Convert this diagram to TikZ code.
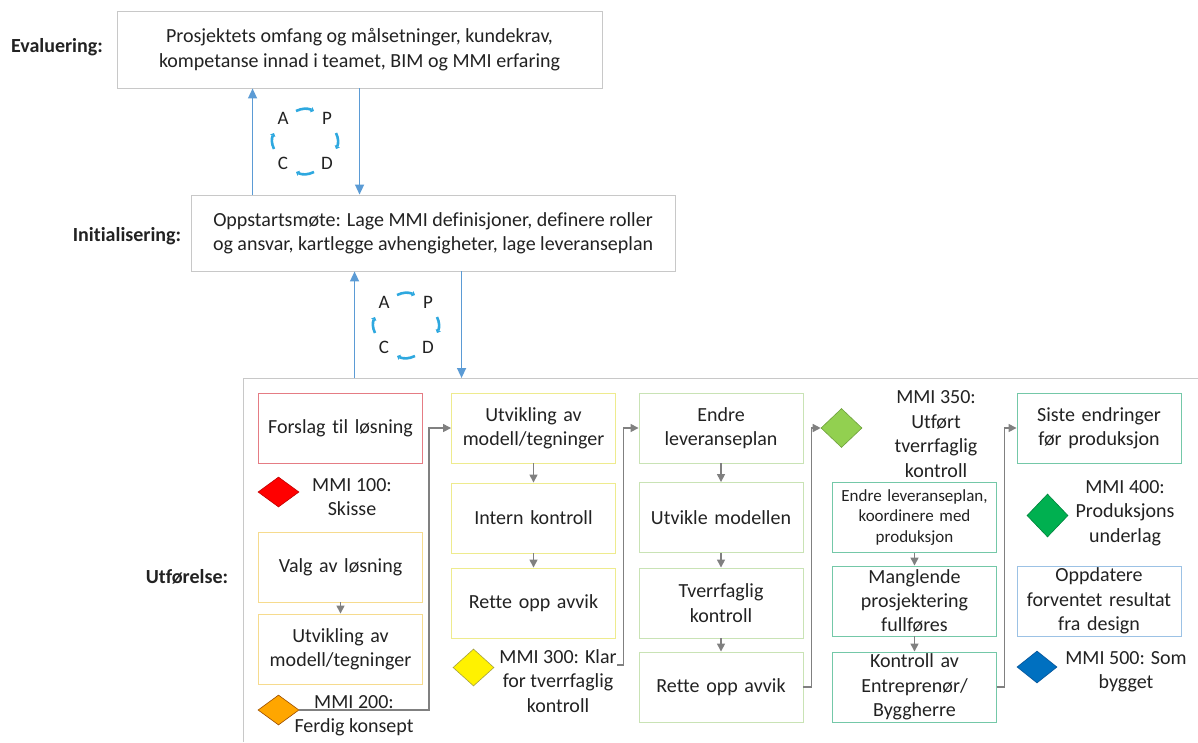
\documentclass[tikz,border=0pt]{standalone}
\usepackage{fontspec}
\setmainfont{Carlito}[Ligatures={NoCommon}]
\usetikzlibrary{arrows.meta,shapes.geometric}

\definecolor{ink}{HTML}{222222}
\definecolor{framegray}{HTML}{C8C8C8}
\definecolor{flowgray}{HTML}{808080}
\definecolor{linkblue}{HTML}{5B9BD5}
\definecolor{cyclecyan}{HTML}{2EA8DF}
\definecolor{edgered}{HTML}{E57C84}
\definecolor{edgegold}{HTML}{F6DB8E}
\definecolor{edgeyellow}{HTML}{EEEB8E}
\definecolor{edgegreen}{HTML}{C9E3B5}
\definecolor{edgeteal}{HTML}{74C8A8}
\definecolor{edgeblue}{HTML}{9CC2E5}

% a PDCA ring: prefix, centre x, centre y
\newcommand\pdcaring[3]{%
  \begin{scope}[shift={(#2,#3)}]
    \node[pdcaletter] (#1A) at (-22,-23) {A};
    \node[pdcaletter] (#1P) at (22,-23) {P};
    \node[pdcaletter] (#1C) at (-22,22) {C};
    \node[pdcaletter] (#1D) at (22,22) {D};
    \draw[cyc] (-9,-30) to[bend left=25] (9,-30);
    \draw[cyc] (31,-8) to[bend left=25] (31,8);
    \draw[cyc] (9,31) to[bend left=25] (-9,31);
    \draw[cyc] (-31,8) to[bend left=25] (-31,-8);
  \end{scope}}

\begin{document}
\begin{tikzpicture}[x=1pt,y=-1pt,
  every node/.style={text=ink},
  txt/.style={align=center, inner sep=0, font=\fontsize{20}{24.4}\selectfont},
  lvl/.style={inner sep=0, font=\fontsize{20}{24.4}\selectfont\bfseries},
  bigbox/.style={txt, draw=framegray, line width=0.9pt, fill=white},
  box/.style={txt, draw, line width=0.9pt, minimum width=164, minimum height=70, text width=160},
  smallbox/.style={box, font=\fontsize{17}{20.5}\selectfont},
  mmi/.style={diamond, inner sep=0, line width=0.6pt},
  pdcaletter/.style={inner sep=0, font=\fontsize{19}{20}\selectfont, text=ink},
  cyc/.style={draw=cyclecyan, line width=2.6pt, -{Triangle[length=3pt,width=5.5pt]}},
  barrow/.style={draw=linkblue, line width=1.4pt, -{Triangle[length=10pt,width=9pt]}},
  garrow/.style={draw=flowgray, line width=1.4pt, -{Triangle[length=8pt,width=8pt]}},
  frame/.style={draw=framegray, line width=0.9pt}
]
\useasboundingbox (0,0) rectangle (1198,742);

% level labels
\node[lvl] (levE) at (57,47) {Evaluering:};
\node[lvl] (levI) at (127,236) {Initialisering:};
\node[lvl] (levU) at (187,577) {Utførelse:};

% evaluation and start-up boxes
\node[bigbox, minimum width=485, minimum height=77] (eval) at (359.5,49.5)
  {Prosjektets omfang og målsetninger, kundekrav,\\kompetanse innad i teamet, BIM og MMI erfaring};
\node[bigbox, minimum width=484, minimum height=76] (init) at (433,233)
  {Oppstartsmøte: Lage MMI definisjoner, definere roller\\og ansvar, kartlegge avhengigheter, lage leveranseplan};

% execution frame
\coordinate (frametop) at (243,378);
\draw[frame] (243,742) -- (frametop) -- (1198,378);

% feedback arrows between levels
\draw[barrow] ([xshift=62]init.north west) -- ([xshift=62]init.north west |- eval.south);
\draw[barrow] ([xshift=243]eval.south west) -- ([xshift=243]eval.south west |- init.north);
\draw[barrow] ([xshift=164]init.south west |- frametop) -- ([xshift=164]init.south west);
\draw[barrow] ([xshift=271]init.south west) -- ([xshift=271]init.south west |- frametop);

\pdcaring{ca}{305}{141}
\pdcaring{cb}{406}{325}

% column 1
\node[box, draw=edgered] (f1) at (340.5,428) {Forslag til løsning};
\node[mmi, fill=red, draw=red!75!black, minimum width=41, minimum height=30] (d100) at (278.5,492) {};
\node[txt] (t100) at (352,497) {MMI 100:\\Skisse};
\node[box, draw=edgegold] (v1) at (340.5,567) {Valg av løsning};
\node[box, draw=edgegold] (v2) at (340.5,649) {Utvikling av\\modell/tegninger};
\node[mmi, fill=orange!70!yellow, draw=orange!60!black, minimum width=41, minimum height=30] (d200) at (278.5,710) {};
\node[txt] (t200) at (354,716) {MMI 200:\\Ferdig konsept};

% column 2
\node[box, draw=edgeyellow] (u1) at (533.5,428) {Utvikling av\\modell/tegninger};
\node[box, draw=edgeyellow] (u2) at (533.5,518) {Intern kontroll};
\node[box, draw=edgeyellow] (u3) at (533.5,603) {Rette opp avvik};
\node[mmi, fill=yellow, draw=yellow!60!black, minimum width=41, minimum height=37] (d300) at (473.5,667.5) {};
\node[txt] (t300) at (558,681) {MMI 300: Klar\\for tverrfaglig\\kontroll};
\coordinate (s300) at (617,665);

% column 3
\node[box, draw=edgegreen] (e1) at (721,428) {Endre\\leveranseplan};
\node[box, draw=edgegreen] (e2) at (721,517.5) {Utvikle modellen};
\node[box, draw=edgegreen] (e3) at (721,603) {Tverrfaglig\\kontroll};
\node[box, draw=edgegreen] (e4) at (721,687) {Rette opp avvik};
\node[mmi, fill={rgb,255:red,146;green,208;blue,80}, draw={rgb,255:red,110;green,160;blue,60}, minimum width=41, minimum height=39] (d350) at (841.5,428) {};
\node[txt] (t350) at (936,434) {MMI 350:\\Utført\\tverrfaglig\\kontroll};

% column 4
\node[smallbox, draw=edgeteal] (k1) at (914.5,517.5) {Endre leveranseplan,\\koordinere med\\produksjon};
\node[box, draw=edgeteal] (k2) at (914.5,601) {Manglende\\prosjektering\\fullføres};
\node[box, draw=edgeteal] (k3) at (914.5,687) {Kontroll av\\Entreprenør/\\Byggherre};

% column 5
\node[box, draw=edgeteal] (s1) at (1099,428) {Siste endringer\\før produksjon};
\node[mmi, fill={rgb,255:red,0;green,176;blue,80}, draw={rgb,255:red,0;green,130;blue,60}, minimum width=41, minimum height=43] (d400) at (1047.5,515.5) {};
\node[txt] (t400) at (1125,513) {MMI 400:\\Produksjons\\underlag};
\node[box, draw=edgeblue] (b2) at (1099,601) {Oppdatere\\forventet resultat\\fra design};
\node[mmi, fill={rgb,255:red,0;green,112;blue,192}, draw={rgb,255:red,0;green,80;blue,150}, minimum width=40, minimum height=32] (d500) at (1037,667) {};
\node[txt] (t500) at (1126,672) {MMI 500: Som\\bygget};

% flow within columns
\draw[garrow] (v1.south) -- (v2.north);
\draw[garrow] (u1.south) -- (u2.north);
\draw[garrow] (u2.south) -- (u3.north);
\draw[garrow] (e1.south) -- (e2.north);
\draw[garrow] (e2.south) -- (e3.north);
\draw[garrow] (e3.south) -- (e4.north);
\draw[garrow] (k1.south) -- (k2.north);
\draw[garrow] (k2.south) -- (k3.north);

% flow between columns
\draw[garrow] (d200.east) -| ([xshift=-22]u1.west) -- (u1.west);
\draw[garrow] (s300) -| ([xshift=-15]e1.west) -- (e1.west);
\draw[garrow] (e4.east) -| ([xshift=-9]d350.west) -- (d350.west);
\draw[garrow] (k3.east) -| ([xshift=-12]s1.west) -- (s1.west);
\end{tikzpicture}
\end{document}
